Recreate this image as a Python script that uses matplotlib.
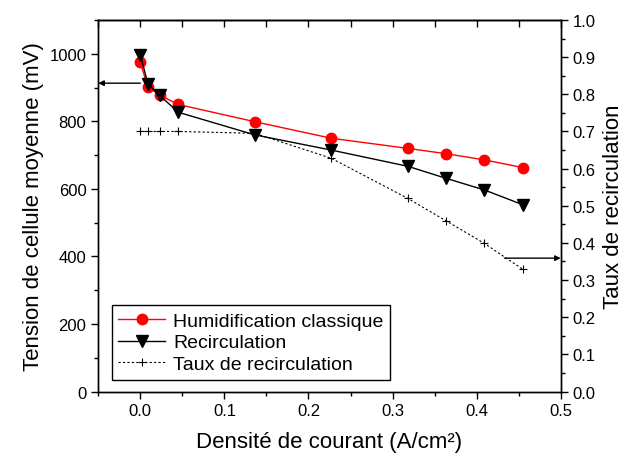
import matplotlib
matplotlib.use("Agg")
import matplotlib.pyplot as plt
from matplotlib.ticker import MultipleLocator

plt.rcParams.update({
    "font.family": ["Liberation Sans", "DejaVu Sans"],
    "axes.linewidth": 1.0,
})

# current density (A/cm²)
density = [0.0, 0.009, 0.023, 0.045, 0.136, 0.227, 0.318, 0.364, 0.409, 0.455]
# mean cell voltage (mV)
voltage_classic = [975, 901, 878, 850, 799, 750, 720, 704, 686, 663]
voltage_recirc = [997, 911, 877, 827, 760, 715, 667, 631, 597, 553]
# recirculation rate
recirc_rate = [0.70, 0.70, 0.70, 0.70, 0.695, 0.628, 0.52, 0.459, 0.399, 0.329]

fig = plt.figure(figsize=(6.26, 4.6), dpi=100)
ax = fig.add_axes([0.157, 0.1467, 0.7387, 0.8076])
ax2 = ax.twinx()

l1, = ax.plot(density, voltage_classic, color="#ff0000", lw=1.0, marker="o",
              markersize=7.5, markeredgecolor="#ff0000", label="Humidification classique")
l2, = ax.plot(density, voltage_recirc, color="black", lw=1.0, marker="v",
              markersize=8, label="Recirculation")
l3, = ax2.plot(density, recirc_rate, color="black", lw=0.8, linestyle=(0, (2, 2)),
               marker="+", markersize=6, markeredgewidth=0.8, label="Taux de recirculation")

ax.set_xlim(-0.05, 0.5)
ax.set_ylim(0, 1100)
ax2.set_ylim(0, 1.0)

ax.xaxis.set_major_locator(MultipleLocator(0.1))
ax.xaxis.set_minor_locator(MultipleLocator(0.05))
ax.yaxis.set_major_locator(MultipleLocator(200))
ax.yaxis.set_minor_locator(MultipleLocator(100))
ax2.yaxis.set_major_locator(MultipleLocator(0.1))
ax2.yaxis.set_minor_locator(MultipleLocator(0.05))
ax.xaxis.set_major_formatter(plt.FuncFormatter(lambda v, p: f"{v:.1f}"))
ax2.yaxis.set_major_formatter(plt.FuncFormatter(lambda v, p: f"{v:.1f}"))

for a in (ax, ax2):
    a.tick_params(which="major", length=5, width=1, labelsize=12, direction="out")
    a.tick_params(which="minor", length=3, width=1, direction="out")

top = ax.secondary_xaxis("top")
top.xaxis.set_major_locator(MultipleLocator(0.05))
top.tick_params(direction="in", length=5, width=1, labeltop=False)
top.set_xticklabels([])

ax.set_xlabel("Densité de courant (A/cm²)", fontsize=16, labelpad=9)
ax.set_ylabel("Tension de cellule moyenne (mV)", fontsize=16, labelpad=4)
ax2.set_ylabel("Taux de recirculation", fontsize=16, labelpad=5)

# arrows indicating which axis each curve belongs to
ax.annotate("", xy=(-0.05, 913), xytext=(0.0, 913),
            arrowprops=dict(arrowstyle="-|>", color="black", lw=1.0,
                            mutation_scale=8, shrinkA=0, shrinkB=0))
ax2.annotate("", xy=(0.5, 0.359), xytext=(0.433, 0.359),
             arrowprops=dict(arrowstyle="-|>", color="black", lw=1.0,
                             mutation_scale=8, shrinkA=0, shrinkB=0))

leg = ax2.legend(handles=[l1, l2, l3], loc="lower left", bbox_to_anchor=(0.029, 0.032),
                 borderaxespad=0, fontsize=14, frameon=True, fancybox=False,
                 edgecolor="black", framealpha=1, handlelength=2.4, labelspacing=0.2,
                 handletextpad=0.4, borderpad=0.35)
leg.get_frame().set_linewidth(1.0)

fig.savefig("out.png", dpi=100)
